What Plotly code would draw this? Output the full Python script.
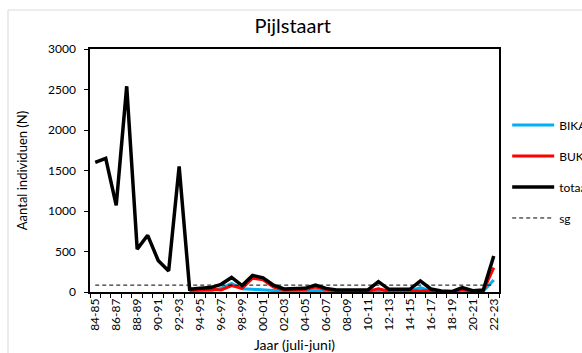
import plotly.graph_objects as go

# Seasons (July-June)
seasons = [f"{(84 + k) % 100:02d}-{(85 + k) % 100:02d}" for k in range(39)]

# Counts of Pijlstaart per season
totaal = [1600, 1650, 1070, 2540, 530, 700, 390, 260, 1550, 35,
          45, 55, 95, 180, 80, 205, 175, 85, 37, 37,
          45, 85, 45, 25, 20, 25, 25, 128, 33, 33,
          33, 136, 37, 12, 5, 53, 16, 25, 444]

buk = [None] * 9 + [20, 30, 35, 25, 80, 45, 170, 150, 60, 25,
                    25, 30, 60, 30, 15, 10, 10, 10, 40, 10,
                    10, 10, 15, 15, 5, 3, 30, 10, 15, 300]

bika = [None] * 9 + [2, 5, 15, 45, 105, 40, 35, 30, 20, 10,
                     8, 8, 20, 10, 5, 5, 5, 5, 5, 5,
                     5, 10, 55, 10, 5, 2, 20, 5, 10, 148]

sg_value = 85
sg = [sg_value] * len(seasons)

# Label every other season on the axis
tick_text = [s if i % 2 == 0 else "" for i, s in enumerate(seasons)]

FONT = "Lato, 'Open Sans', sans-serif"

fig = go.Figure()
fig.add_trace(go.Scatter(x=seasons, y=bika, name="BIKA", mode="lines",
                         line=dict(color="#00B0F0", width=3), legendgroup="a"))
fig.add_trace(go.Scatter(x=seasons, y=buk, name="BUK", mode="lines",
                         line=dict(color="#FF0000", width=3), legendgroup="b"))
fig.add_trace(go.Scatter(x=seasons, y=totaal, name="totaal", mode="lines",
                         line=dict(color="#000000", width=3.5), legendgroup="c"))
fig.add_trace(go.Scatter(x=seasons, y=sg, name="sg", mode="lines",
                         line=dict(color="#000000", width=1, dash="4px,3px"),
                         legendgroup="d"))

fig.update_layout(
    width=582, height=353,
    margin=dict(l=90, r=83, t=49, b=61, autoexpand=False),
    paper_bgcolor="white", plot_bgcolor="white",
    font=dict(family=FONT, size=12, color="#000000"),
    title=dict(text="Pijlstaart", x=0.503, xanchor="center", y=0.925, yanchor="middle",
               font=dict(size=20, family=FONT)),
    showlegend=True,
    legend=dict(x=1.02, xanchor="left", y=0.747, yanchor="top",
                font=dict(size=12, family=FONT), tracegroupgap=12,
                itemwidth=42, bgcolor="rgba(0,0,0,0)"),
    xaxis=dict(
        type="category", tickmode="array", tickvals=seasons, ticktext=tick_text,
        range=[-0.5, len(seasons) - 0.5],
        tickangle=-90, tickson="boundaries", ticks="outside", ticklen=4,
        tickcolor="#000000", showline=True, linecolor="#000000", linewidth=1.5,
        mirror=True, showgrid=False, zeroline=False, automargin=False,
        tickfont=dict(size=12, family=FONT),
        title=dict(text="Jaar (juli-juni)", standoff=11, font=dict(size=14, family=FONT)),
    ),
    yaxis=dict(
        range=[0, 3000], tick0=0, dtick=500, ticks="outside", ticklen=4,
        tickcolor="#000000", showline=True, linecolor="#000000", linewidth=1.5,
        mirror=True, showgrid=False, zeroline=False, automargin=False,
        ticklabelstandoff=6, tickfont=dict(size=12, family=FONT),
        title=dict(text="Aantal individuen (N)", standoff=17, font=dict(size=13, family=FONT)),
    ),
    shapes=[dict(type="rect", xref="paper", yref="paper",
                 x0=-82 / 409, x1=600 / 409, y0=-80 / 243, y1=282 / 243,
                 line=dict(color="#D9D9D9", width=1), fillcolor="rgba(0,0,0,0)",
                 layer="below")],
)

fig.write_html("out.html")
